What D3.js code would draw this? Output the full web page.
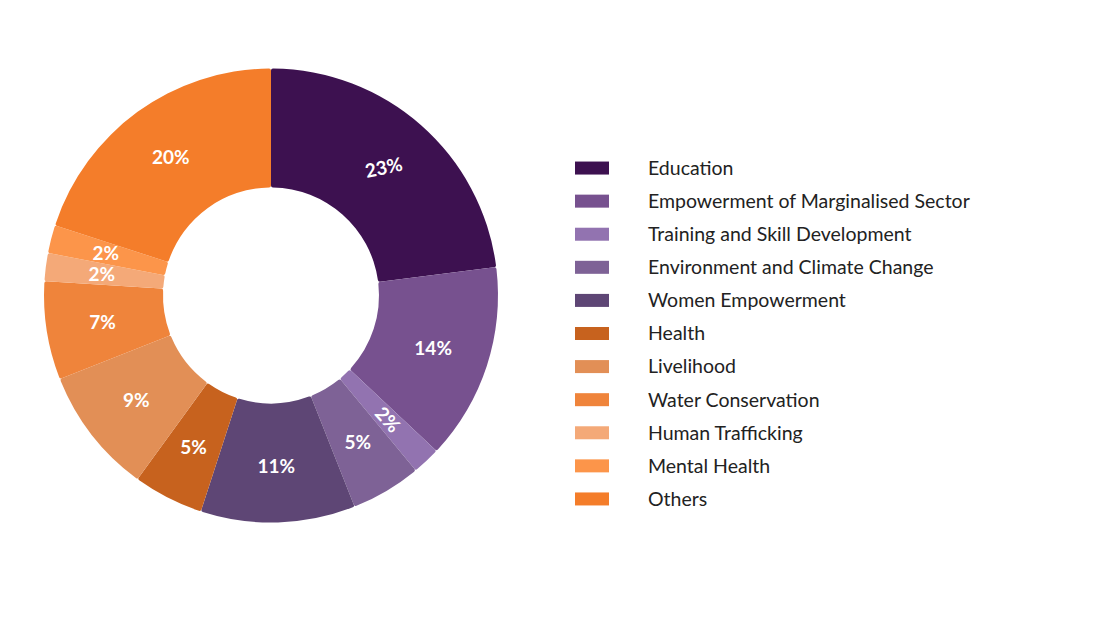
<!DOCTYPE html>
<html><head><meta charset="utf-8">
<script src="https://cdn.jsdelivr.net/npm/d3@7/dist/d3.min.js"></script>
<style>body{margin:0;background:#fff}text{font-family:Lato,"Noto Sans",sans-serif}</style>
</head><body><svg id="c" width="1105" height="628"></svg>
<script>
const categories=["Education","Empowerment of Marginalised Sector","Training and Skill Development","Environment and Climate Change","Women Empowerment","Health","Livelihood","Water Conservation","Human Trafficking","Mental Health","Others"];
const values=[23,14,2,5,11,5,9,7,2,2,20];
const colors=["#3d1150","#77518f","#9273b0","#7e6296","#5e4675","#c7621e","#e28f56","#ef843b","#f4a978","#fc954a","#f47d2a"];
const labelRotate=[-12,0,48,0,0,0,0,0,0,0,0];
const svg=d3.select("#c");
const cx=271,cy=295.5,R=227,r=108;
const g=svg.append("g").attr("transform",`translate(${cx},${cy})`);
const pie=d3.pie().sort(null).value(d=>d)(values);
const arc=d3.arc().innerRadius(r).outerRadius(R).cornerRadius(2);
g.selectAll("path").data(pie).join("path").attr("d",arc).attr("fill",(d,i)=>colors[i]);
const la=d3.arc().innerRadius((r+R)/2+3).outerRadius((r+R)/2+3);
g.selectAll("text").data(pie).join("text")
 .attr("transform",(d,i)=>{const c=la.centroid(d);return `translate(${c[0]},${c[1]}) rotate(${labelRotate[i]})`})
 .attr("text-anchor","middle").attr("dy","0.35em").attr("fill","#fff").attr("font-weight","bold").attr("font-size",19)
 .text(d=>d.data+"%");
const y=d3.scaleBand().domain(categories).range([151.5,515.5]);
const lg=svg.append("g");
lg.selectAll("rect").data(categories).join("rect").attr("x",575).attr("width",34).attr("height",13)
 .attr("y",d=>y(d)+y.bandwidth()/2-6.5).attr("fill",(d,i)=>colors[i]);
lg.selectAll("text").data(categories).join("text").attr("x",648).attr("y",d=>y(d)+y.bandwidth()/2)
 .attr("dy","0.35em").attr("font-size",19.5).attr("fill","#222").text(d=>d);
</script></body></html>
